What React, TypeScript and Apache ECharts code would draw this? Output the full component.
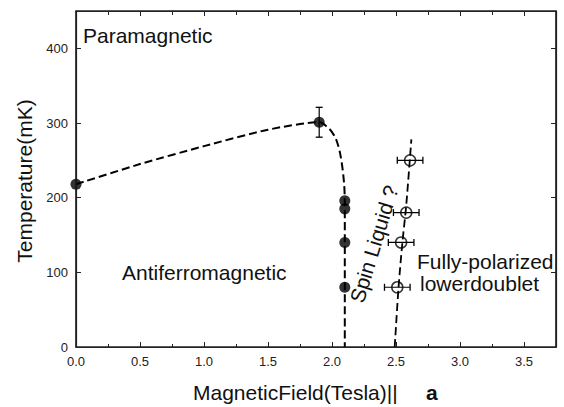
import React, { useEffect, useRef } from "react";
import * as echarts from "echarts";

// Filled circles: antiferromagnetic boundary [field T, temperature mK]
const afmPoints: number[][] = [
  [0.0, 218],
  [1.9, 301],
  [2.1, 196],
  [2.1, 185],
  [2.1, 140],
  [2.1, 80],
];
// Error (mK) on the filled points
const afmYErr: number[] = [0, 20, 0, 0, 0, 0];

// Open circles: spin-liquid / fully polarized boundary
const fpPoints: number[][] = [
  [2.61, 250],
  [2.58, 180],
  [2.54, 140],
  [2.51, 80],
];
const fpXErr: number[] = [0.1, 0.1, 0.1, 0.1];

// Dashed guide lines
const afmCurve: number[][] = [
  [0.0, 218],
  [0.5, 245],
  [1.0, 269],
  [1.5, 291],
  [1.9, 301],
  [1.98, 292],
  [2.03, 279],
  [2.06, 262],
  [2.08, 242],
  [2.095, 218],
  [2.1, 195],
  [2.1, 0],
];
const fpCurve: number[][] = [
  [2.49, 0],
  [2.52, 80],
  [2.55, 140],
  [2.58, 190],
  [2.62, 278],
];

const xTickLabels = ["0.0", "0.5", "1.0", "1.5", "2.0", "2.5", "3.0", "3.5"];
const yTickLabels = ["0", "100", "200", "300", "400"];

const FONT = "Liberation Sans, Arial, sans-serif";

function fmtX(v: number) {
  const idx = Math.round(v / 0.5);
  return xTickLabels[idx] !== undefined ? xTickLabels[idx] : "";
}
function fmtY(v: number) {
  const idx = Math.round(v / 100);
  return yTickLabels[idx] !== undefined ? yTickLabels[idx] : "";
}

export default function App() {
  const ref = useRef<HTMLDivElement>(null);

  useEffect(() => {
    if (!ref.current) return;
    const chart = echarts.init(ref.current, undefined, { renderer: "svg" });

    // Error bars as small line series (caps are the end symbols)
    const errSeries: any[] = [];
    afmPoints.forEach((p, i) => {
      if (afmYErr[i] > 0) {
        errSeries.push({
          type: "line",
          data: [
            [p[0], p[1] - afmYErr[i]],
            [p[0], p[1] + afmYErr[i]],
          ],
          symbol: "rect",
          symbolSize: [7, 1.3],
          showSymbol: true,
          showAllSymbol: true,
          itemStyle: { color: "#000" },
          lineStyle: { color: "#000", width: 1.2 },
          z: 4,
        });
      }
    });
    fpPoints.forEach((p, i) => {
      if (fpXErr[i] > 0) {
        errSeries.push({
          type: "line",
          data: [
            [p[0] - fpXErr[i], p[1]],
            [p[0] + fpXErr[i], p[1]],
          ],
          symbol: "rect",
          symbolSize: [1.3, 7],
          showSymbol: true,
          showAllSymbol: true,
          itemStyle: { color: "#000" },
          lineStyle: { color: "#000", width: 1.2 },
          z: 4,
        });
      }
    });

    chart.setOption({
      animation: false,
      backgroundColor: "#fff",
      grid: {
        left: 76,
        right: 8,
        top: 11,
        bottom: 60,
        show: true,
        borderColor: "#222",
        borderWidth: 1.2,
        backgroundColor: "transparent",
      },
      xAxis: [
        {
          type: "value",
          min: 0,
          max: 3.75,
          interval: 0.5,
          axisLine: { show: true, onZero: false, lineStyle: { color: "#222", width: 1.2 } },
          axisTick: { show: true, inside: true, length: 5 },
          minorTick: { show: true, splitNumber: 2, length: 3 },
          splitLine: { show: false },
          axisLabel: {
            showMaxLabel: false,
            margin: 8,
            fontSize: 13,
            color: "#222",
            fontFamily: FONT,
            formatter: fmtX,
          },
        },
        {
          type: "value",
          min: 0,
          max: 3.75,
          interval: 0.5,
          position: "top",
          axisLine: { show: true, onZero: false, lineStyle: { color: "#222", width: 1.2 } },
          axisTick: { show: true, inside: true, length: 5 },
          minorTick: { show: true, splitNumber: 2, length: 4 },
          splitLine: { show: false },
          axisLabel: { show: false },
        },
      ],
      yAxis: [
        {
          type: "value",
          min: 0,
          max: 450,
          interval: 100,
          axisLine: { show: true, onZero: false, lineStyle: { color: "#222", width: 1.2 } },
          axisTick: { show: true, inside: true, length: 5 },
          splitLine: { show: false },
          axisLabel: {
            showMaxLabel: false,
            margin: 8,
            fontSize: 13,
            color: "#222",
            fontFamily: FONT,
            formatter: fmtY,
          },
        },
        {
          type: "value",
          min: 0,
          max: 450,
          interval: 100,
          position: "right",
          axisLine: { show: true, onZero: false, lineStyle: { color: "#222", width: 1.2 } },
          axisTick: { show: true, inside: true, length: 5 },
          splitLine: { show: false },
          axisLabel: { show: false },
        },
      ],
      series: [
        {
          type: "line",
          data: afmCurve,
          smooth: 0.25,
          symbol: "none",
          lineStyle: { color: "#000", width: 2, type: [8, 4] },
          z: 2,
        },
        {
          type: "line",
          data: fpCurve,
          smooth: 0.3,
          symbol: "none",
          lineStyle: { color: "#000", width: 1.8, type: [8, 4] },
          z: 2,
        },
        ...errSeries,
        {
          type: "scatter",
          data: afmPoints,
          symbol: "circle",
          symbolSize: 11,
          itemStyle: { color: "#000" },
          z: 5,
        },
        {
          type: "scatter",
          data: fpPoints,
          symbol: "circle",
          symbolSize: 11,
          itemStyle: { color: "rgba(255,255,255,0)", borderColor: "#000", borderWidth: 1.5 },
          z: 5,
        },
      ],
      graphic: [
        {
          type: "rect",
          silent: true,
          z: 10,
          shape: { x: 76, y: 11, width: 480, height: 336 },
          style: { fill: "none", stroke: "#222", lineWidth: 1.2 },
        },
        {
          type: "text",
          x: 83,
          y: 35,
          style: { text: "Paramagnetic", font: `21px ${FONT}`, fill: "#111", align: "left", verticalAlign: "middle" },
        },
        {
          type: "text",
          x: 122,
          y: 272,
          style: { text: "Antiferromagnetic", font: `21px ${FONT}`, fill: "#111", align: "left", verticalAlign: "middle" },
        },
        {
          type: "text",
          x: 417,
          y: 261,
          style: { text: "Fully-polarized", font: `21px ${FONT}`, fill: "#111", align: "left", verticalAlign: "middle" },
        },
        {
          type: "text",
          x: 420,
          y: 283,
          style: { text: "lowerdoublet", font: `21px ${FONT}`, fill: "#111", align: "left", verticalAlign: "middle" },
        },
        {
          type: "text",
          x: 374,
          y: 244,
          rotation: (73 * Math.PI) / 180,
          style: { text: "Spin Liquid ?", font: `21px ${FONT}`, fill: "#111", align: "center", verticalAlign: "middle" },
        },
        {
          type: "text",
          x: 24,
          y: 181,
          rotation: Math.PI / 2,
          style: { text: "Temperature(mK)", font: `21px ${FONT}`, fill: "#111", align: "center", verticalAlign: "middle" },
        },
        {
          type: "text",
          x: 193,
          y: 392,
          style: { text: "MagneticField(Tesla)||", font: `21px ${FONT}`, fill: "#111", align: "left", verticalAlign: "middle" },
        },
        {
          type: "text",
          x: 426,
          y: 392,
          style: { text: "a", font: `bold 21px ${FONT}`, fill: "#111", align: "left", verticalAlign: "middle" },
        },
      ],
    });

    return () => chart.dispose();
  }, []);

  return (
    <div
      ref={ref}
      style={{ position: "fixed", left: 0, top: 0, width: 564, height: 407 }}
    />
  );
}
